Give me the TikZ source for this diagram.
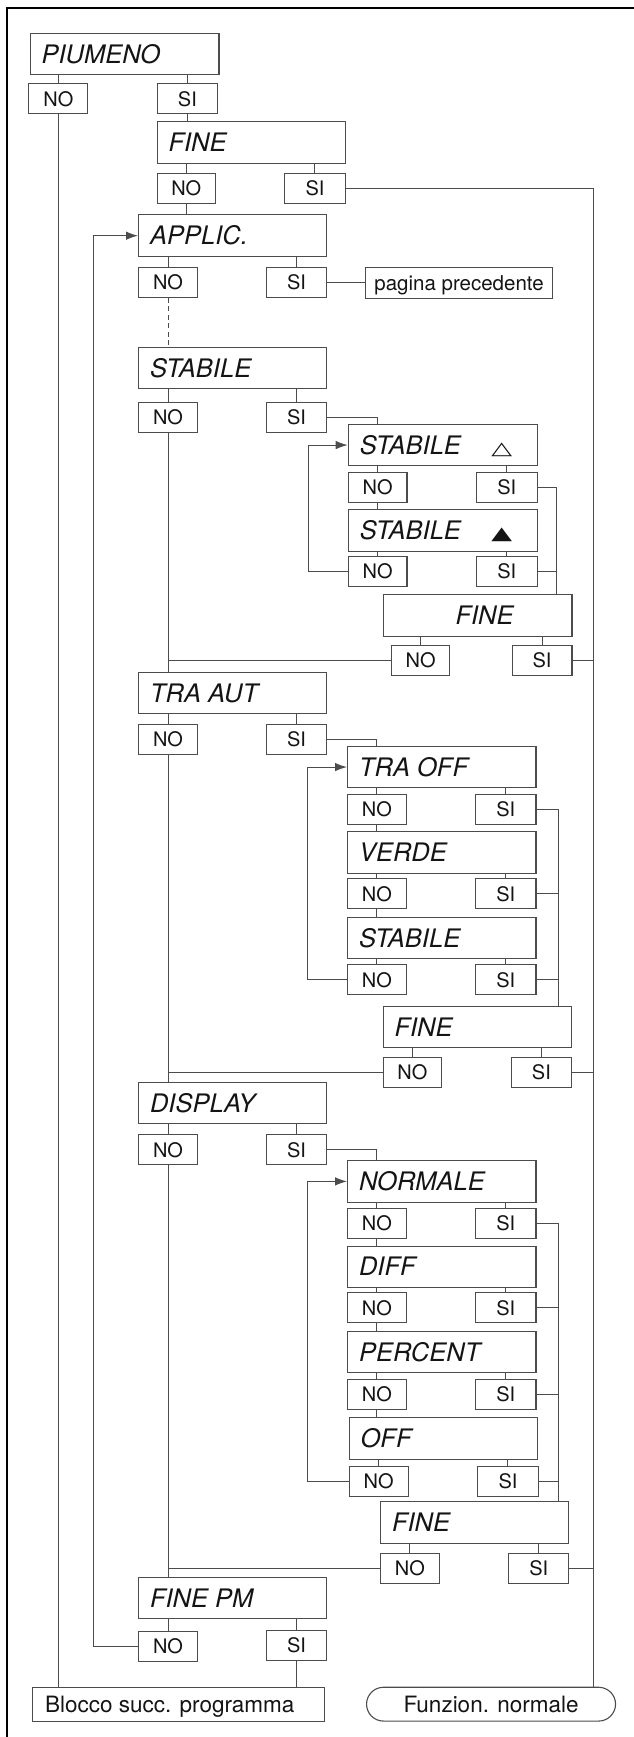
\documentclass[tikz,border=0pt]{standalone}
\usepackage{fontspec}
\setmainfont{TeX Gyre Heros}
\newfontfamily\symf{DejaVu Sans}
\usepackage{graphicx}
\usetikzlibrary{arrows.meta}
\definecolor{lc}{gray}{0.3}
\definecolor{tc}{gray}{0.08}
\tikzset{
 bx/.style={draw=lc, line width=1.1pt, inner sep=0pt, text=tc},
 lab/.style={bx, font=\fontsize{25.5}{30}\selectfont\itshape, text height=18.3pt, text depth=0pt},
 yn/.style={bx, font=\fontsize{20}{24}\selectfont, text height=14.4pt, text depth=0pt},
 term/.style={bx, font=\fontsize{22.5}{27}\selectfont, text height=16.2pt, text depth=0pt},
 pg/.style={bx, font=\fontsize{20.5}{24}\selectfont, text height=14.7pt, text depth=0pt},
 conn/.style={draw=lc, line width=1pt},
 arr/.style={conn, -{Latex[length=12pt,width=8.5pt]}},
}
\newcommand\bx[7]{\pgfmathsetmacro\bxw{#4-#2}\pgfmathsetmacro\bxh{#5-#3}%
 \node[#6, minimum width=\bxw pt, minimum height=\bxh pt, anchor=north west] (#1) at (#2,#3) {#7};}
\newcommand\lbl[2][11.5pt]{\makebox[\bxw pt][l]{\hspace*{#1}#2}}
\newcommand\tri[1]{{\upshape\symf\fontsize{25}{30}\selectfont\scalebox{1.08}[0.72]{#1}}}
\newcommand\vc[2]{\draw[conn] (#1.south -| #2.north) -- (#2.north);}
\newcommand\vu[2]{\draw[conn] (#1.south) -- (#1.south |- #2.north);}
\begin{document}
\begin{tikzpicture}[x=1pt,y=-1pt]
\useasboundingbox (0,0) rectangle (634,1737);
\draw[line width=1.7pt, black] (7,1737) -- (7,8.3) -- (634,8.3);
% top
\bx{piu}{29.5}{32.7}{218.4}{74}{lab}{\lbl{PIUMENO}}
\bx{pno}{28.3}{83.3}{87.3}{113.3}{yn}{NO}
\bx{psi}{157}{83.3}{216.7}{113.3}{yn}{SI}
\bx{fine0}{156.5}{121}{344.5}{162.7}{lab}{\lbl{FINE}}
\bx{f0no}{156.5}{172.5}{215}{202.5}{yn}{NO}
\bx{f0si}{284.3}{172.5}{344.5}{202.5}{yn}{SI}
\bx{appl}{138}{214.3}{326.3}{256}{lab}{\lbl{APPLIC.}}
\bx{ano}{138}{266.7}{197}{296.7}{yn}{NO}
\bx{asi}{265.7}{266.7}{326.3}{296.7}{yn}{SI}
\bx{pag}{365}{266.7}{552}{297.5}{pg}{pagina precedente}
% STABILE section
\bx{stab}{138}{346.7}{326.3}{388.3}{lab}{\lbl{STABILE}}
\bx{sno}{138}{401.7}{197}{431.7}{yn}{NO}
\bx{ssi}{265.7}{401.7}{326.3}{431.7}{yn}{SI}
\bx{st1}{347.7}{424}{536.5}{465}{lab}{\lbl{STABILE\hfill\tri{△}\hspace*{25pt}}}
\bx{st1no}{347.7}{471.7}{406.4}{501.7}{yn}{NO}
\bx{st1si}{476}{471.7}{536.5}{501.7}{yn}{SI}
\bx{st2}{347.7}{509}{536.5}{550.7}{lab}{\lbl{STABILE\hfill\tri{▲}\hspace*{25pt}}}
\bx{st2no}{347.7}{556}{406.4}{586}{yn}{NO}
\bx{st2si}{476}{556}{536.5}{586}{yn}{SI}
\bx{fineA}{383}{594}{571.4}{636}{lab}{\lbl[72pt]{FINE}}
\bx{fAno}{391}{645}{449.3}{675}{yn}{NO}
\bx{fAsi}{511.5}{645}{571.4}{675}{yn}{SI}
% TRA AUT section
\bx{tra}{138}{671.7}{326.3}{713.3}{lab}{\lbl{TRA AUT}}
\bx{tno}{138}{724}{197}{754.3}{yn}{NO}
\bx{tsi}{265.7}{724}{326.3}{754.3}{yn}{SI}
\bx{toff}{347}{745.7}{535.4}{787.3}{lab}{\lbl{TRA OFF}}
\bx{t1no}{347}{794}{405.6}{824}{yn}{NO}
\bx{t1si}{475}{794}{535.4}{824}{yn}{SI}
\bx{verde}{347}{831.3}{535.4}{872.7}{lab}{\lbl{VERDE}}
\bx{t2no}{347}{878.3}{405.6}{908.3}{yn}{NO}
\bx{t2si}{475}{878.3}{535.4}{908.3}{yn}{SI}
\bx{tst}{347}{916.7}{535.4}{958.3}{lab}{\lbl{STABILE}}
\bx{t3no}{347}{964.3}{405.6}{994.3}{yn}{NO}
\bx{t3si}{475}{964.3}{535.4}{994.3}{yn}{SI}
\bx{fineB}{382.5}{1005.7}{571}{1047.3}{lab}{\lbl{FINE}}
\bx{fBno}{382.5}{1057}{441.2}{1087}{yn}{NO}
\bx{fBsi}{510.7}{1057}{571}{1087}{yn}{SI}
% DISPLAY section
\bx{disp}{138}{1081.7}{326.3}{1123.3}{lab}{\lbl{DISPLAY}}
\bx{dno}{138}{1134.3}{197}{1164.3}{yn}{NO}
\bx{dsi}{265.7}{1134.3}{326.3}{1164.3}{yn}{SI}
\bx{norm}{347}{1160}{535.4}{1201.7}{lab}{\lbl{NORMALE}}
\bx{d1no}{347}{1208}{405.6}{1238}{yn}{NO}
\bx{d1si}{475}{1208}{535.4}{1238}{yn}{SI}
\bx{diff}{347}{1245.5}{535.4}{1287}{lab}{\lbl{DIFF}}
\bx{d2no}{347}{1292.3}{405.6}{1322.3}{yn}{NO}
\bx{d2si}{475}{1292.3}{535.4}{1322.3}{yn}{SI}
\bx{perc}{347}{1330.7}{535.4}{1372.3}{lab}{\lbl{PERCENT}}
\bx{d3no}{347}{1379}{405.6}{1409}{yn}{NO}
\bx{d3si}{475}{1379}{535.4}{1409}{yn}{SI}
\bx{off}{348.6}{1417.3}{537}{1459}{lab}{\lbl{OFF}}
\bx{d4no}{348.6}{1465.7}{407.6}{1495.7}{yn}{NO}
\bx{d4si}{477}{1465.7}{537.8}{1495.7}{yn}{SI}
\bx{fineC}{380}{1500.7}{568}{1542.7}{lab}{\lbl{FINE}}
\bx{fCno}{380}{1552.5}{438.7}{1582.5}{yn}{NO}
\bx{fCsi}{508.3}{1552.5}{568}{1582.5}{yn}{SI}
% end
\bx{fpm}{138}{1576.7}{326.3}{1618.3}{lab}{\lbl{FINE PM}}
\bx{fpno}{138}{1630.5}{197}{1660.5}{yn}{NO}
\bx{fpsi}{265.7}{1630}{326.3}{1660}{yn}{SI}
\bx{blocco}{31.5}{1686.7}{323.5}{1721}{term}{\lbl[13pt]{Blocco succ. programma}}
\bx{funz}{366}{1686.7}{615}{1720.5}{term,rounded corners=16.9pt}{Funzion. normale}
% helper coordinates
\coordinate (rc) at (593.6,0);
\coordinate (cA) at (556,0);
\coordinate (cB) at (558,0);
\coordinate (lA) at (308.5,0);
\coordinate (lB) at (307.7,0);
\coordinate (lbig) at (93.8,0);
% connectors top
\vc{piu}{pno} \vc{piu}{psi}
\vu{pno}{blocco}
\vu{psi}{fine0}
\vc{fine0}{f0no} \vc{fine0}{f0si}
\draw[conn] (f0si.east) -| (rc |- funz.north);
\vu{f0no}{appl}
\vc{appl}{ano} \vc{appl}{asi}
\draw[conn] (asi.east) -- (asi.east -| pag.west);
\draw[conn, dash pattern=on 5pt off 3.5pt] (ano.south) -- (ano.south |- stab.north);
% STABILE
\vc{stab}{sno} \vc{stab}{ssi}
\draw[conn] (ssi.east) -| (st1no.north |- st1.north);
\vc{st1}{st1no} \vc{st1}{st1si}
\vu{st1no}{st2}
\vc{st2}{st2no} \vc{st2}{st2si}
\draw[conn] (st1si.east) -| (cA |- fineA.north);
\draw[conn] (st2si.east) -- (st2si.east -| cA);
\draw[arr] (st2no.west) -| (lA |- st1.west) -- (st1.west);
\vc{fineA}{fAno} \vc{fineA}{fAsi}
\draw[conn] (fAno.west) -- (fAno.west -| sno.south);
\draw[conn] (fAsi.east) -- (fAsi.east -| rc);
\vu{sno}{tra}
% TRA AUT
\vc{tra}{tno} \vc{tra}{tsi}
\draw[conn] (tsi.east) -| (t1no.north |- toff.north);
\vc{toff}{t1no} \vc{toff}{t1si}
\vu{t1no}{verde}
\vc{verde}{t2no} \vc{verde}{t2si}
\vu{t2no}{tst}
\vc{tst}{t3no} \vc{tst}{t3si}
\draw[conn] (t1si.east) -| (cB |- fineB.north);
\draw[conn] (t2si.east) -- (t2si.east -| cB);
\draw[conn] (t3si.east) -- (t3si.east -| cB);
\draw[arr] (t3no.west) -| (lB |- toff.west) -- (toff.west);
\vc{fineB}{fBno} \vc{fineB}{fBsi}
\draw[conn] (fBno.west) -- (fBno.west -| tno.south);
\draw[conn] (fBsi.east) -- (fBsi.east -| rc);
\vu{tno}{disp}
% DISPLAY
\vc{disp}{dno} \vc{disp}{dsi}
\draw[conn] (dsi.east) -| (d1no.north |- norm.north);
\vc{norm}{d1no} \vc{norm}{d1si}
\vu{d1no}{diff}
\vc{diff}{d2no} \vc{diff}{d2si}
\vu{d2no}{perc}
\vc{perc}{d3no} \vc{perc}{d3si}
\vu{d3no}{off}
\vc{off}{d4no} \vc{off}{d4si}
\draw[conn] (d1si.east) -| (cB |- fineC.north);
\draw[conn] (d2si.east) -- (d2si.east -| cB);
\draw[conn] (d3si.east) -- (d3si.east -| cB);
\draw[conn] (d4si.east) -- (d4si.east -| cB);
\draw[arr] (d4no.west) -| (lB |- norm.west) -- (norm.west);
\vc{fineC}{fCno} \vc{fineC}{fCsi}
\draw[conn] (fCno.west) -- (fCno.west -| dno.south);
\draw[conn] (fCsi.east) -- (fCsi.east -| rc);
\vu{dno}{fpm}
% FINE PM
\vc{fpm}{fpno} \vc{fpm}{fpsi}
\vu{fpsi}{blocco}
\draw[arr] (fpno.west) -| (lbig |- appl.west) -- (appl.west);
\end{tikzpicture}
\end{document}
